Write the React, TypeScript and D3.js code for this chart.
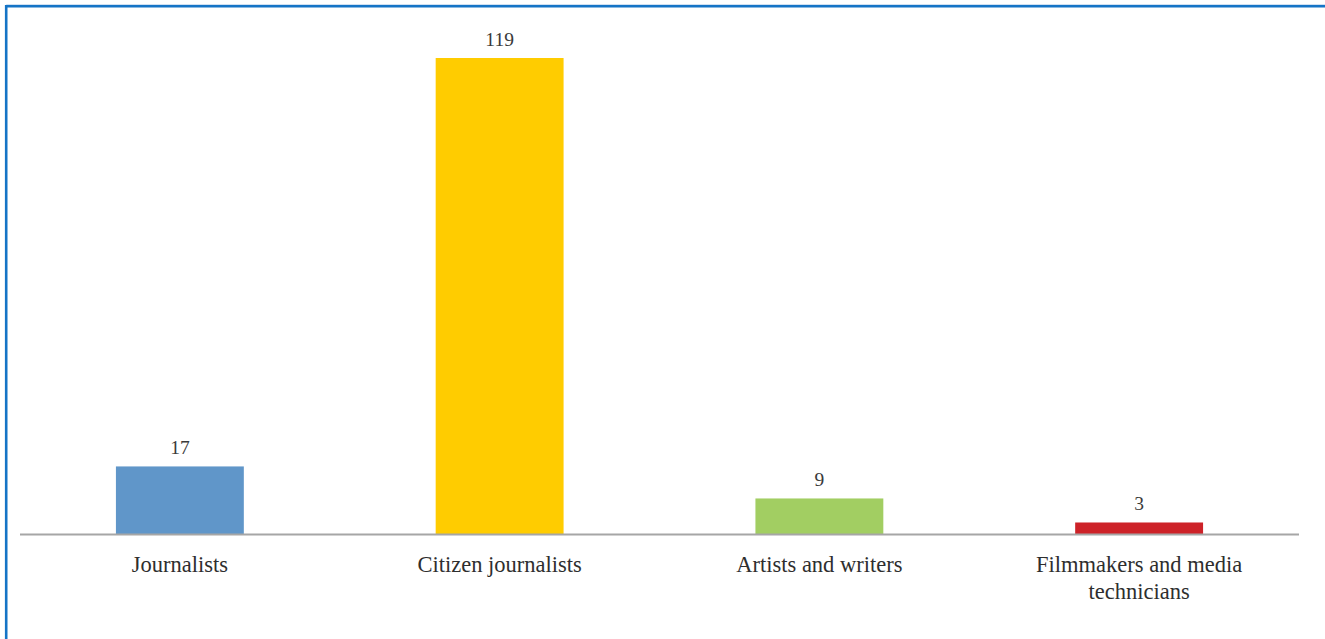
import React from "react";
import * as d3 from "d3";

const categories = ["Journalists", "Citizen journalists", "Artists and writers", "Filmmakers and media technicians"];
const categoryLines = [["Journalists"], ["Citizen journalists"], ["Artists and writers"], ["Filmmakers and media", "technicians"]];
const values = [17, 119, 9, 3];
const colors = ["#6096C9", "#FFCC00", "#A2CE62", "#CD2228"];

const W = 1325;
const H = 639;
const axisY = 534.5;
const left = 20;
const right = 1299;

export default function App() {
  const x = d3.scaleBand<string>().domain(categories).range([left, right]).paddingInner(0.6).paddingOuter(0.3);
  const y = d3.scaleLinear().domain([0, 119]).range([axisY, 58]);
  const font = "'Liberation Serif', 'Times New Roman', serif";
  return (
    <svg width={W} height={H} style={{ position: "absolute", left: 0, top: 0, background: "#fff" }}>
      <rect x={0} y={0} width={W} height={H} fill="#fff" />
      {/* frame */}
      <line x1={6.2} y1={4.5} x2={W} y2={4.5} stroke="#cfe0f2" strokeWidth={1} />
      <line x1={6.2} y1={6.2} x2={W} y2={6.2} stroke="#1574C6" strokeWidth={2.6} />
      <line x1={6.2} y1={5} x2={6.2} y2={H} stroke="#1574C6" strokeWidth={2.6} />
      {categories.map((c, i) => (
        <rect key={c} x={x(c)} y={y(values[i])} width={x.bandwidth()} height={axisY - y(values[i])} fill={colors[i]} />
      ))}
      <line x1={left} x2={right} y1={axisY} y2={axisY} stroke="#A6A6A6" strokeWidth={2} />
      {categories.map((c, i) => (
        <text key={c + "v"} x={(x(c) as number) + x.bandwidth() / 2} y={y(values[i]) - 12} textAnchor="middle" fontFamily={font} fontSize={19.5} fill="#3a3a3a">
          {values[i]}
        </text>
      ))}
      {categories.map((c, i) => (
        <text key={c + "l"} x={(x(c) as number) + x.bandwidth() / 2} y={572} textAnchor="middle" fontFamily={font} fontSize={22.5} fill="#2e2e2e">
          {categoryLines[i].map((l, j) => (
            <tspan key={j} x={(x(c) as number) + x.bandwidth() / 2} dy={j === 0 ? 0 : 27}>{l}</tspan>
          ))}
        </text>
      ))}
    </svg>
  );
}
